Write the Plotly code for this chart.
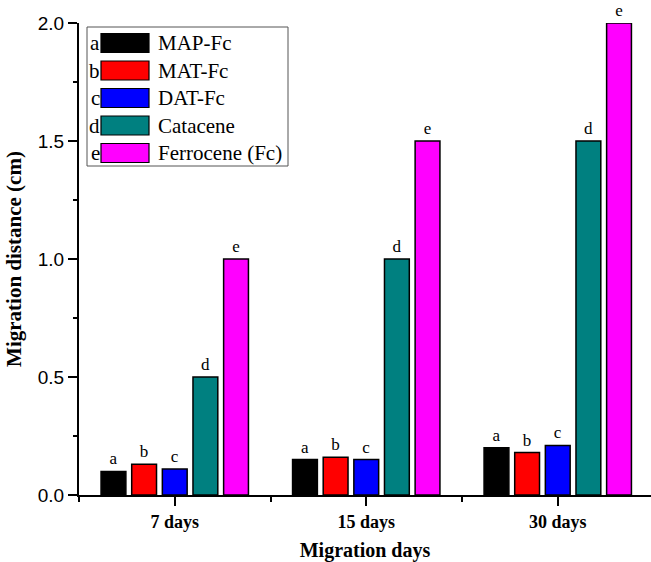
import plotly.graph_objects as go

categories = ["7 days", "15 days", "30 days"]
series_names = ["MAP-Fc", "MAT-Fc", "DAT-Fc", "Catacene", "Ferrocene (Fc)"]
series_letters = ["a", "b", "c", "d", "e"]
series_colors = ["#000000", "#FF0000", "#0000FF", "#008080", "#FF00FF"]
map_fc = [0.10, 0.15, 0.20]
mat_fc = [0.13, 0.16, 0.18]
dat_fc = [0.11, 0.15, 0.21]
catacene = [0.50, 1.00, 1.50]
ferrocene = [1.00, 1.50, 2.00]
series_values = [map_fc, mat_fc, dat_fc, catacene, ferrocene]
y_ticks = [0.0, 0.5, 1.0, 1.5, 2.0]

W, H = 651, 562
ML, MR, MT, MB = 79, 0, 23, 67
PW, PH = W - ML - MR, H - MT - MB

def px_x(p):
    return (p - ML) / PW

def px_y(p):
    return (H - MB - p) / PH

xpos = list(range(len(categories)))

fig = go.Figure()
for name, letter, color, vals in zip(series_names, series_letters, series_colors, series_values):
    fig.add_trace(go.Bar(
        x=xpos, y=vals, name=name,
        marker=dict(color=color, line=dict(color="black", width=1.5)),
        text=[letter] * len(vals), textposition="outside", cliponaxis=False,
        textfont=dict(family="Liberation Serif", size=17, color="black"),
        showlegend=False,
    ))

# custom legend (Origin-style, letter + wide swatch + name)
shapes = [dict(type="rect", xref="paper", yref="paper",
               x0=px_x(87), x1=px_x(288), y0=px_y(166), y1=px_y(27),
               line=dict(color="#555555", width=1), fillcolor="white", layer="above")]
annotations = []
row0, step = 43, 27.5
for i, (name, letter, color) in enumerate(zip(series_names, series_letters, series_colors)):
    cy = row0 + i * step
    shapes.append(dict(type="rect", xref="paper", yref="paper",
                       x0=px_x(101), x1=px_x(149), y0=px_y(cy + 9.5), y1=px_y(cy - 9.5),
                       fillcolor=color, line=dict(color="black", width=1.2), layer="above"))
    annotations.append(dict(xref="paper", yref="paper", x=px_x(102), y=px_y(cy),
                            text=letter, showarrow=False, xanchor="right", yanchor="middle",
                            font=dict(family="Liberation Serif", size=21, color="black")))
    annotations.append(dict(xref="paper", yref="paper", x=px_x(156), y=px_y(cy),
                            text=name, showarrow=False, xanchor="left", yanchor="middle",
                            font=dict(family="Liberation Serif", size=21, color="black")))

fig.update_layout(
    width=W, height=H,
    margin=dict(l=ML, r=MR, t=MT, b=MB, pad=0),
    plot_bgcolor="white", paper_bgcolor="white",
    barmode="group", bargap=0.2, bargroupgap=0.19,
    shapes=shapes, annotations=annotations,
    xaxis=dict(
        range=[-0.5, -0.5 + PW / 191.5], tickvals=xpos, ticktext=categories,
        ticks="outside", ticklen=9, tickwidth=2, tickcolor="black",
        showline=True, linewidth=2, linecolor="black", showgrid=False, zeroline=False,
        minor=dict(tick0=0.5, dtick=1, ticks="outside", ticklen=5, tickwidth=2, tickcolor="black"),
        tickfont=dict(family="Liberation Serif", size=18, color="black", weight="bold"),
        title=dict(text="<b>Migration days</b>", standoff=19,
                   font=dict(family="Liberation Serif", size=20, color="black")),
        automargin=False,
    ),
    yaxis=dict(
        range=[0, 2.0], tickvals=y_ticks, tickformat=".1f",
        ticks="outside", ticklen=9, tickwidth=2, tickcolor="black",
        showline=True, linewidth=2, linecolor="black", showgrid=False, zeroline=False,
        minor=dict(dtick=0.25, ticks="outside", ticklen=4, tickwidth=2, tickcolor="black"),
        tickfont=dict(family="Liberation Sans", size=19, color="black"),
        title=dict(text="<b>Migration distance (cm)</b>", standoff=10,
                   font=dict(family="Liberation Serif", size=21, color="black")),
        automargin=False,
    ),
)

fig.write_html("out.html", config={"displayModeBar": False},
               post_script="document.body.style.margin='0';")
